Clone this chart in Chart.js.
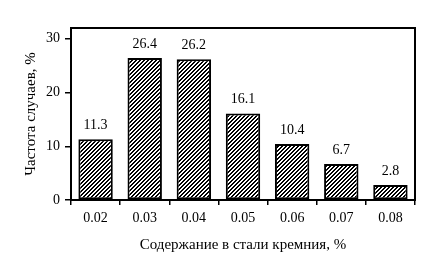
<!DOCTYPE html>
<html><head><meta charset="utf-8">
<script src="https://cdn.jsdelivr.net/npm/chart.js@4/dist/chart.umd.min.js"></script>
<style>html,body{margin:0;padding:0;background:#fff;}#c{display:block;}</style>
</head><body>
<canvas id="c" width="430" height="278"></canvas>
<script>
const categories = ['0.02','0.03','0.04','0.05','0.06','0.07','0.08'];
const frequency = [11.3, 26.4, 26.2, 16.1, 10.4, 6.7, 2.8];
const yTicks = [0, 10, 20, 30];
const xTitle = 'Содержание в стали кремния, %';
const yTitle = 'Частота случаев, %';

function hatch(){
  const p = document.createElement('canvas');
  p.width = 4; p.height = 4;
  const g = p.getContext('2d');
  g.fillStyle = '#fff'; g.fillRect(0,0,4,4);
  g.fillStyle = '#000';
  for (let i=0;i<4;i++){ g.fillRect(3-i,i,1,1); g.fillRect((4-i)%4,i,1,1); }
  return g.createPattern(p,'repeat');
}
const ctx = document.getElementById('c').getContext('2d');
const fam = '"Liberation Serif", "Times New Roman", serif';
const tickFont = {family:fam, size:14};
const titleFont = {family:fam, size:15};

const frame = {
  id:'frame',
  afterDatasetsDraw(chart){
    const {ctx, chartArea:a} = chart;
    ctx.save();
    ctx.strokeStyle='#000'; ctx.lineWidth=2;
    ctx.strokeRect(a.left, a.top, a.right-a.left, a.bottom-a.top);
    ctx.fillStyle='#000';
    ctx.font = '14px ' + fam;
    ctx.textAlign='center'; ctx.textBaseline='alphabetic';
    const meta = chart.getDatasetMeta(0);
    meta.data.forEach((b,i)=>{
      ctx.fillText(frequency[i].toFixed(1), b.x, b.y-10);
    });
    ctx.restore();
  }
};

new Chart(ctx, {
  type:'bar',
  data:{labels:categories, datasets:[{data:frequency, backgroundColor:hatch(), borderColor:'#000', borderWidth:2, borderSkipped:false, barPercentage:0.7, categoryPercentage:1}]},
  options:{
    responsive:false, animation:false, events:[],
    layout:{padding:{left:0,right:15,top:28,bottom:0}},
    plugins:{legend:{display:false}, tooltip:{enabled:false}},
    scales:{
      x:{
        grid:{display:true, offset:true, drawOnChartArea:false, drawTicks:true, tickLength:5, color:'#000', lineWidth:1.5},
        border:{display:false},
        ticks:{color:'#000', font:tickFont, padding:5, maxRotation:0},
        title:{display:true, text:xTitle, color:'#000', font:titleFont, padding:{top:0,bottom:24}},
        afterFit(s){ s.height = 78; }
      },
      y:{
        min:0, max:32,
        afterBuildTicks(s){ s.ticks = yTicks.map(v=>({value:v})); },
        grid:{drawOnChartArea:false, drawTicks:true, tickLength:6, color:'#000', lineWidth:1.5},
        border:{display:false},
        ticks:{color:'#000', font:tickFont, padding:5},
        title:{display:true, text:yTitle, color:'#000', font:titleFont, padding:{top:22,bottom:0}},
        afterFit(s){ s.width = 71; }
      }
    }
  },
  plugins:[frame]
});
</script>
</body></html>
